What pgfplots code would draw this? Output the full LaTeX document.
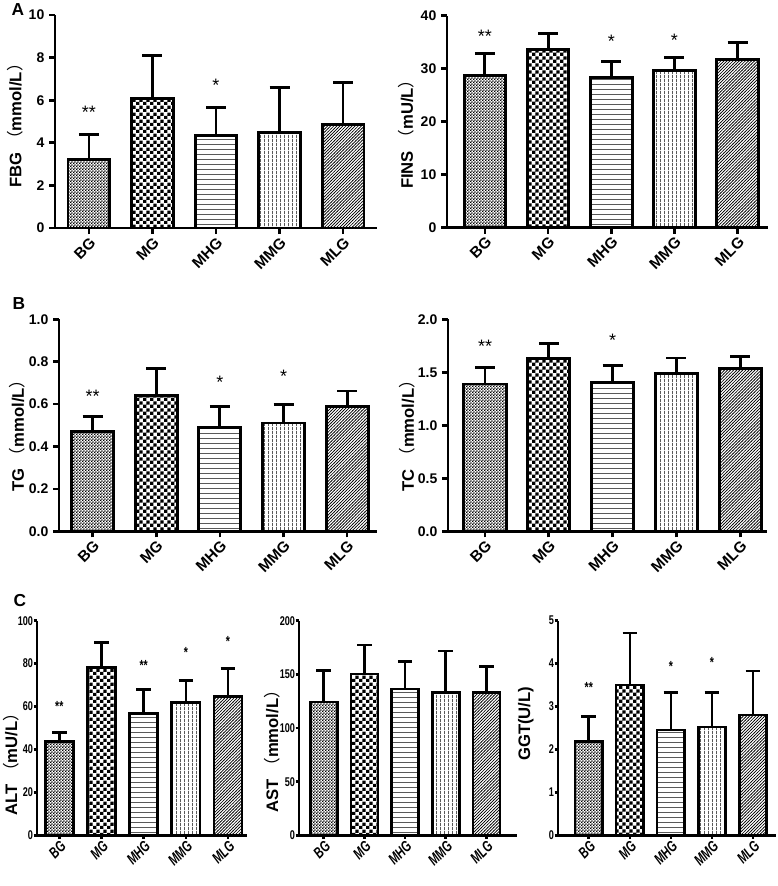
\documentclass[border=0pt]{standalone}
\usepackage{fontspec}
\setmainfont{Liberation Sans}
\newfontfamily\cjk{Noto Sans CJK SC}
\newfontfamily\narrowfont[FakeStretch=0.72]{Liberation Sans}
\usepackage{pgfplots}
\pgfplotsset{compat=1.18}
\usetikzlibrary{patterns}

\pgfdeclarepatternformonly{finecheck}{\pgfpointorigin}{\pgfqpoint{2.4pt}{2.4pt}}{\pgfqpoint{2.4pt}{2.4pt}}{%
  \pgfpathrectangle{\pgfpointorigin}{\pgfqpoint{1.2pt}{1.2pt}}%
  \pgfpathrectangle{\pgfqpoint{1.2pt}{1.2pt}}{\pgfqpoint{1.2pt}{1.2pt}}%
  \pgfusepath{fill}}
\pgfdeclarepatternformonly{coarsecheck}{\pgfpointorigin}{\pgfqpoint{5.4pt}{5.4pt}}{\pgfqpoint{5.4pt}{5.4pt}}{%
  \pgfpathrectangle{\pgfpointorigin}{\pgfqpoint{2.7pt}{2.7pt}}%
  \pgfpathrectangle{\pgfqpoint{2.7pt}{2.7pt}}{\pgfqpoint{2.7pt}{2.7pt}}%
  \pgfusepath{fill}}
\pgfdeclarepatternformonly{hlines}{\pgfpointorigin}{\pgfqpoint{4pt}{4pt}}{\pgfqpoint{4pt}{4pt}}{%
  \pgfpathrectangle{\pgfpointorigin}{\pgfqpoint{4pt}{0.6pt}}%
  \pgfusepath{fill}}
\pgfdeclarepatternformonly{vlines}{\pgfpointorigin}{\pgfqpoint{3pt}{3pt}}{\pgfqpoint{3pt}{3pt}}{%
  \pgfpathrectangle{\pgfpointorigin}{\pgfqpoint{0.6pt}{3pt}}%
  \pgfusepath{fill}}
\pgfdeclarepatternformonly{dlines}{\pgfqpoint{-1pt}{-1pt}}{\pgfqpoint{3.5pt}{3.5pt}}{\pgfqpoint{2.3pt}{2.3pt}}{%
  \pgfsetlinewidth{0.5pt}%
  \pgfpathmoveto{\pgfqpoint{-0.2pt}{-0.2pt}}%
  \pgfpathlineto{\pgfqpoint{2.5pt}{2.5pt}}%
  \pgfusepath{stroke}}

\pgfplotsset{
  panel/.style={
    scale only axis, anchor=south west,
    axis lines*=left, axis line style={line width=2.2pt,-},
    tick align=outside, major tick length=4.5pt,
    tick style={line width=2pt,black},
    xtick={0,1,2,3,4}, xticklabels={BG,MG,MHG,MMG,MLG},
    ymin=0, clip=false,
    /pgf/number format/assume math mode=true,
    xticklabel style={rotate=45, anchor=north east, inner sep=1pt},
    ylabel style={anchor=center},
  },
  toppanel/.style={panel,
    yticklabel style={font=\bfseries\fontsize{10.5}{12}\selectfont},
    xticklabel style={font=\bfseries\fontsize{11.5}{13}\selectfont},
    ylabel style={font=\bfseries\fontsize{12.5}{15}\selectfont},
  },
  cpanel/.style={panel, major tick length=2.5pt,
    yticklabel style={font=\narrowfont\bfseries\fontsize{9.5}{11}\selectfont, inner sep=0.3pt},
    xticklabel style={font=\narrowfont\bfseries\itshape\fontsize{11.5}{12}\selectfont, inner sep=0.5pt},
    ylabel style={font=\bfseries\fontsize{12.5}{14}\selectfont},
  },
  bb/.style={ybar, bar width=0.66, bar shift=0pt, draw=black, line width=2.2pt,
    error bars/y dir=plus, error bars/y explicit,
    error bars/error bar style={line width=2.2pt,black},
    error bars/error mark options={rotate=90, line width=2.2pt, mark size=7.5pt, black}},
  bc/.style={ybar, bar width=0.67, bar shift=0pt, draw=black, line width=2pt,
    error bars/y dir=plus, error bars/y explicit,
    error bars/error bar style={line width=2pt,black},
    error bars/error mark options={rotate=90, line width=2pt, mark size=5.5pt, black}},
  stars/.style={draw=none, nodes near coords, point meta=explicit symbolic,
    nodes near coords style={anchor=center, black, font=\fontsize{13.5}{14}\selectfont}},
  cstars/.style={draw=none, nodes near coords, point meta=explicit symbolic,
    nodes near coords style={anchor=center, black, font=\narrowfont\bfseries\fontsize{11}{12}\selectfont}},
}

\begin{document}
\begin{tikzpicture}
\path[use as bounding box] (0,0) rectangle (583.5pt,-664.5pt);

\node[font=\bfseries\fontsize{13}{15}\selectfont] at (13.5pt,-7.5pt) {A};
\node[font=\bfseries\fontsize{13}{15}\selectfont] at (14.25pt,-228pt) {B};
\node[font=\bfseries\fontsize{13}{15}\selectfont] at (15pt,-450.75pt) {C};

% FBG
\begin{axis}[toppanel, at={(41.25pt,-171pt)}, width=241.5pt, height=159.75pt,
  xmin=-0.535, xmax=4.535, ymax=10, ytick={0,2,4,6,8,10},
  ylabel style={at={(axis description cs:-0.124,0.5)}},
  ylabel={FBG {\cjk\mdseries （}mmol/L{\cjk\mdseries ）}}]
\addplot[bb, pattern=finecheck] coordinates {(0,3.21) +- (0,1.19)};
\addplot[bb, pattern=coarsecheck] coordinates {(1,6.08) +- (0,2.04)};
\addplot[bb, pattern=hlines] coordinates {(2,4.33) +- (0,1.34)};
\addplot[bb, pattern=vlines] coordinates {(3,4.47) +- (0,2.11)};
\addplot[bb, pattern=dlines] coordinates {(4,4.87) +- (0,1.98)};
\addplot[stars] coordinates {(0,5.45) [**] (2,6.7) [*]};
\end{axis}

% FINS
\begin{axis}[toppanel, at={(335.25pt,-170.78pt)}, width=240.75pt, height=159pt,
  xmin=-0.6, xmax=4.48, ymax=40, ytick={0,10,20,30,40},
  ylabel style={at={(axis description cs:-0.126,0.46)}},
  ylabel={FINS {\cjk\mdseries （}mU/L{\cjk\mdseries ）}}]
\addplot[bb, pattern=finecheck] coordinates {(0,28.7) +- (0,4.1)};
\addplot[bb, pattern=coarsecheck] coordinates {(1,33.6) +- (0,3.1)};
\addplot[bb, pattern=hlines] coordinates {(2,28.3) +- (0,3.1)};
\addplot[bb, pattern=vlines] coordinates {(3,29.7) +- (0,2.4)};
\addplot[bb, pattern=dlines] coordinates {(4,31.8) +- (0,3.2)};
\addplot[stars] coordinates {(0,36.1) [**] (2,35.2) [*] (3,35.4) [*]};
\end{axis}

% TG
\begin{axis}[toppanel, at={(44.25pt,-398.5pt)}, width=238.5pt, height=159pt,
  xmin=-0.53, xmax=4.47, ymax=1, ytick={0,0.2,0.4,0.6,0.8,1},
  yticklabel style={/pgf/number format/.cd, fixed, fixed zerofill, precision=1},
  ylabel style={at={(axis description cs:-0.13,0.47)}},
  ylabel={TG {\cjk\mdseries （}mmol/L{\cjk\mdseries ）}}]
\addplot[bb, pattern=finecheck] coordinates {(0,0.472) +- (0,0.069)};
\addplot[bb, pattern=coarsecheck] coordinates {(1,0.642) +- (0,0.127)};
\addplot[bb, pattern=hlines] coordinates {(2,0.492) +- (0,0.098)};
\addplot[bb, pattern=vlines] coordinates {(3,0.511) +- (0,0.088)};
\addplot[bb, pattern=dlines] coordinates {(4,0.590) +- (0,0.072)};
\addplot[stars] coordinates {(0,0.639) [**] (2,0.703) [*] (3,0.729) [*]};
\end{axis}

% TC
\begin{axis}[toppanel, at={(336pt,-398.5pt)}, width=239.25pt, height=159pt,
  xmin=-0.58, xmax=4.42, ymax=2, ytick={0,0.5,1,1.5,2},
  yticklabel style={/pgf/number format/.cd, fixed, fixed zerofill, precision=1},
  ylabel style={at={(axis description cs:-0.127,0.47)}},
  ylabel={TC {\cjk\mdseries （}mmol/L{\cjk\mdseries ）}}]
\addplot[bb, pattern=finecheck] coordinates {(0,1.39) +- (0,0.157)};
\addplot[bb, pattern=coarsecheck] coordinates {(1,1.632) +- (0,0.142)};
\addplot[bb, pattern=hlines] coordinates {(2,1.40) +- (0,0.166)};
\addplot[bb, pattern=vlines] coordinates {(3,1.49) +- (0,0.145)};
\addplot[bb, pattern=dlines] coordinates {(4,1.538) +- (0,0.112)};
\addplot[stars] coordinates {(0,1.745) [**] (2,1.805) [*]};
\end{axis}

% ALT
\begin{axis}[cpanel, at={(27.75pt,-626.5pt)}, width=157.5pt, height=161pt,
  xmin=-0.53, xmax=4.45, ymax=100, ytick={0,20,40,60,80,100},
  ylabel style={at={(axis description cs:-0.125,0.35)}},
  ylabel={ALT {\cjk\mdseries （}mU/L{\cjk\mdseries ）}}]
\addplot[bc, pattern=finecheck] coordinates {(0,43.8) +- (0,4.0)};
\addplot[bc, pattern=coarsecheck] coordinates {(1,78.3) +- (0,11.4)};
\addplot[bc, pattern=hlines] coordinates {(2,56.7) +- (0,11.3)};
\addplot[bc, pattern=vlines] coordinates {(3,61.8) +- (0,10.2)};
\addplot[bc, pattern=dlines] coordinates {(4,64.6) +- (0,13.2)};
\addplot[cstars] coordinates {(0,60) [**] (2,79.3) [**] (3,85.2) [*] (4,90.3) [*]};
\end{axis}

% AST
\begin{axis}[cpanel, at={(224.25pt,-626.5pt)}, width=163.5pt, height=161pt,
  xmin=-0.61, xmax=4.75, ymax=200, ytick={0,50,100,150,200},
  ylabel style={at={(axis description cs:-0.125,0.41)}},
  ylabel={AST {\cjk\mdseries （}mmol/L{\cjk\mdseries ）}}]
\addplot[bc, pattern=finecheck] coordinates {(0,124.1) +- (0,29.5)};
\addplot[bc, pattern=coarsecheck] coordinates {(1,150.2) +- (0,27.2)};
\addplot[bc, pattern=hlines] coordinates {(2,136.5) +- (0,25.4)};
\addplot[bc, pattern=vlines] coordinates {(3,132.8) +- (0,39.0)};
\addplot[bc, pattern=dlines] coordinates {(4,132.8) +- (0,24.2)};
\end{axis}

% GGT
\begin{axis}[cpanel, at={(418.5pt,-626.5pt)}, width=163.5pt, height=161pt,
  xmin=-0.75, xmax=4.56, ymax=5, ytick={0,1,2,3,4,5},
  ylabel style={at={(axis description cs:-0.148,0.52)}},
  ylabel={GGT(U/L)}]
\addplot[bc, pattern=finecheck] coordinates {(0,2.19) +- (0,0.58)};
\addplot[bc, pattern=coarsecheck] coordinates {(1,3.50) +- (0,1.21)};
\addplot[bc, pattern=hlines] coordinates {(2,2.45) +- (0,0.87)};
\addplot[bc, pattern=vlines] coordinates {(3,2.52) +- (0,0.80)};
\addplot[bc, pattern=dlines] coordinates {(4,2.80) +- (0,1.03)};
\addplot[cstars] coordinates {(0,3.45) [**] (2,3.94) [*] (3,4.03) [*]};
\end{axis}
\end{tikzpicture}
\end{document}
